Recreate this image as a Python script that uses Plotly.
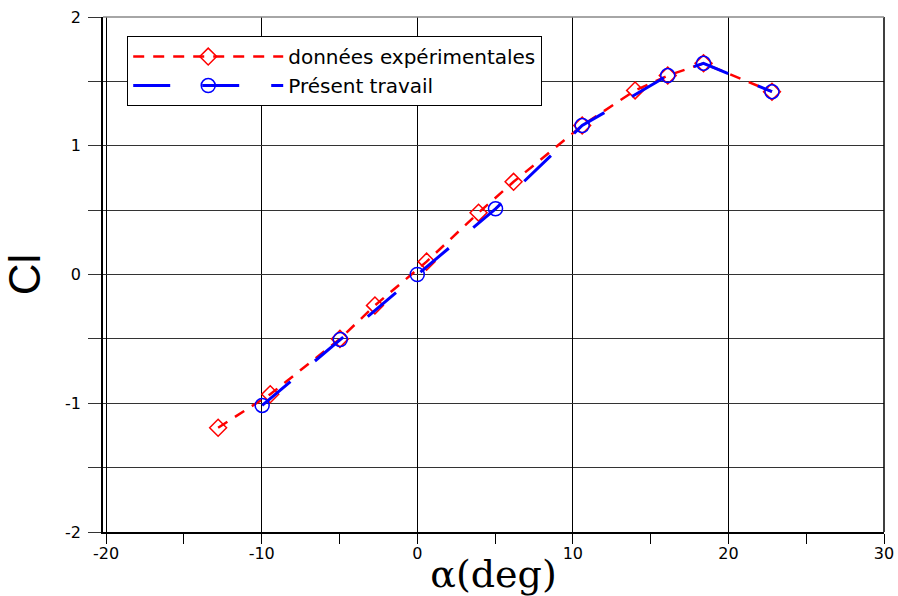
import plotly.graph_objects as go

# Experimental data (données expérimentales)
exp_alpha = [-12.8, -9.45, -4.97, -2.72, 0.6, 3.94, 6.19, 10.6, 14.0, 16.1, 18.4, 22.8]
exp_cl = [-1.19, -0.93, -0.50, -0.24, 0.10, 0.48, 0.72, 1.157, 1.43, 1.545, 1.64, 1.42]

# Present work (Présent travail)
pt_alpha = [-9.97, -4.95, 0.0, 5.03, 10.6, 16.1, 18.4, 22.8]
pt_cl = [-1.017, -0.505, 0.0, 0.51, 1.157, 1.545, 1.64, 1.42]

x_ticks = [-20, -10, 0, 10, 20, 30]
y_ticks = [-2, -1, 0, 1, 2]

fig = go.Figure()
fig.add_trace(go.Scatter(
    x=exp_alpha, y=exp_cl, mode="lines+markers", name="données expérimentales",
    line=dict(color="#ff0000", width=2.5, dash="11px,9px"),
    marker=dict(symbol="diamond-open", size=13, color="#ff0000", line=dict(width=1.5, color="#ff0000")),
))
fig.add_trace(go.Scatter(
    x=pt_alpha, y=pt_cl, mode="lines+markers", name="Présent travail",
    line=dict(color="#0000ff", width=3, dash="37px,32px"),
    marker=dict(symbol="circle-open", size=14, color="#0000ff", line=dict(width=1.5, color="#0000ff")),
))

tick_font = dict(family="DejaVu Sans, Arial, sans-serif", size=16, color="black")

fig.update_layout(
    width=898, height=596,
    margin=dict(l=103, r=14, t=17, b=64),
    plot_bgcolor="white", paper_bgcolor="white",
    font=dict(family="DejaVu Sans, Arial, sans-serif", size=14, color="black"),
    showlegend=True,
    legend=dict(
        x=0.031, y=0.963, xanchor="left", yanchor="top",
        bgcolor="white", bordercolor="black", borderwidth=1,
        font=dict(size=20, family="DejaVu Sans, Arial, sans-serif"),
        itemwidth=150, tracegroupgap=0,
    ),
    xaxis=dict(
        range=[-20.2, 30], tickmode="array", tickvals=x_ticks,
        ticktext=[str(v) for v in x_ticks], tickfont=tick_font,
        showgrid=True, gridcolor="black", gridwidth=1,
        zeroline=False, showline=True, linecolor="black", linewidth=1.5,
        ticks="", ticklen=0, ticklabelstandoff=6, automargin=False,
        minor=dict(dtick=5, tick0=0, ticks="outside", ticklen=10, tickcolor="black", showgrid=False),
        title=dict(text="α(deg)", font=dict(family="DejaVu Serif, Times New Roman, serif", size=38), standoff=20),
    ),
    yaxis=dict(
        range=[-2, 2], tickmode="array", tickvals=y_ticks,
        ticktext=[str(v) for v in y_ticks], tickfont=tick_font,
        showgrid=True, gridcolor="#333333", gridwidth=1,
        zeroline=False, showline=True, linecolor="black", linewidth=1.5,
        ticks="", ticklen=0, ticklabelstandoff=17, automargin=False,
        minor=dict(dtick=0.5, tick0=0, ticks="outside", ticklen=13, tickcolor="#333333",
                   showgrid=True, gridcolor="#333333", gridwidth=1),
        title=dict(text="Cl", font=dict(family="Liberation Sans Narrow, Arial Narrow, Arial, sans-serif", size=44), standoff=18),
    ),
)
# top and right borders
fig.add_shape(type="line", xref="paper", yref="paper", x0=1, x1=1, y0=0, y1=1,
              line=dict(color="black", width=1.5))
fig.add_shape(type="line", xref="paper", yref="paper", x0=0, x1=1, y0=1, y1=1,
              line=dict(color="#888888", width=1.5))

fig.write_html("out.html")
